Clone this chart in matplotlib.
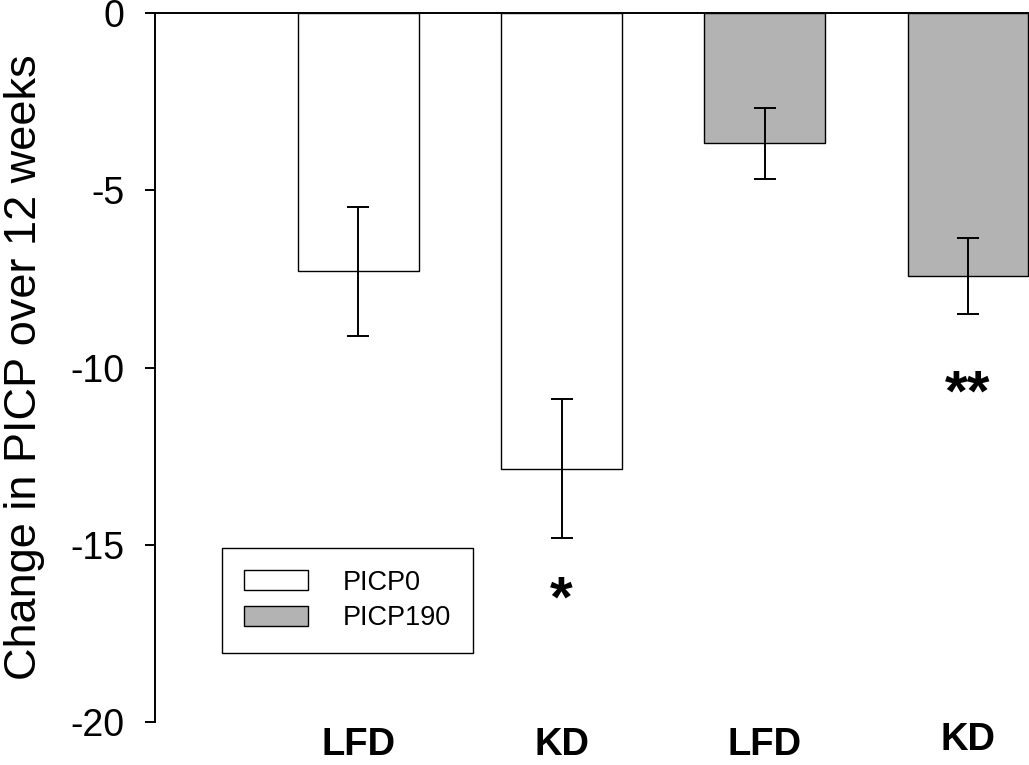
import numpy as np
import matplotlib
matplotlib.use('Agg')
import matplotlib.pyplot as plt
import matplotlib.transforms as mtransforms

plt.rcParams['font.family'] = ['Liberation Sans', 'DejaVu Sans']

# data
diets = ['LFD', 'KD', 'LFD', 'KD']
picp0_change = [-7.28, -12.86]
picp0_err = [1.82, 1.96]
picp190_change = [-3.67, -7.42]
picp190_err = [1.0, 1.08]
stars = ['*', '**']   # under bar 2 and bar 4
star_y = [-16.6, -10.8]

fig = plt.figure(figsize=(10.29, 7.65), dpi=100)
ax = fig.add_axes([155/1029, 1-722/765, 1-155/1029, (722-13)/765])

x0 = np.array([1, 2])
x1 = np.array([3, 4])
w = 0.595
ekw = dict(elinewidth=1.4, capthick=1.4)
ax.bar(x0, picp0_change, w, color='white', edgecolor='black', linewidth=1,
       yerr=picp0_err, capsize=8, error_kw=ekw, label='PICP0')
ax.bar(x1, picp190_change, w, color='#b3b3b3', edgecolor='black', linewidth=1,
       yerr=picp190_err, capsize=8, error_kw=ekw, label='PICP190')

ax.set_xlim(0.0, 4.3)
ax.set_ylim(-20, 0)
ax.set_yticks([0, -5, -10, -15, -20])
ax.set_yticklabels(['0', '-5', '-10', '-15', '-20'])
ax.tick_params(axis='y', direction='out', length=7, width=1.4, pad=15, labelsize=27)
ax.set_xticks([])
for s in ['right', 'bottom']:
    ax.spines[s].set_visible(False)
ax.spines['left'].set_linewidth(1.4)
ax.spines['top'].set_linewidth(1.4)
ax.set_ylabel('Change in PICP over 12 weeks', fontsize=32.5, labelpad=18)

# group labels under the axis
trans = mtransforms.blended_transform_factory(ax.transData, ax.transAxes)
lab_y = [-0.032, -0.032, -0.032, -0.026]
for xi, (d, ly) in enumerate(zip(diets, lab_y), start=1):
    ax.text(xi, ly, d, transform=trans, ha='center', va='center',
            fontsize=27.5, fontweight='bold')

# significance marks
for xi, s, sy in zip([2, 4], stars, star_y):
    ax.text(xi, sy, s, ha='center', va='center', fontsize=42, fontweight='bold')

leg = ax.legend(loc='upper left', bbox_to_anchor=(222/1029, 1-548/765),
                bbox_transform=fig.transFigure, fontsize=19.5, fancybox=False,
                edgecolor='black', framealpha=1, handlelength=2.37,
                handleheight=0.75, handletextpad=1.3, borderpad=0.8,
                labelspacing=0.35, borderaxespad=0)
leg.get_frame().set_linewidth(1)

fig.savefig('out.png', dpi=100)
